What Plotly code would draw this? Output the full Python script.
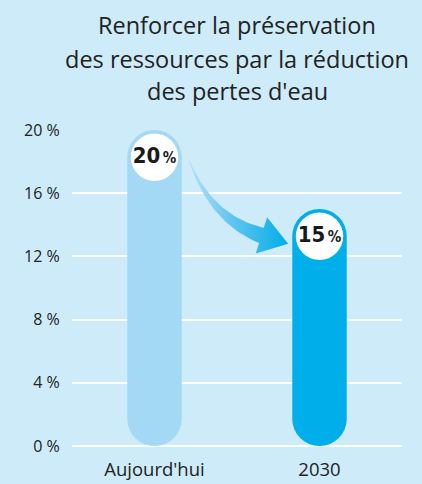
import numpy as np
import plotly.graph_objects as go

# ---- data ----
categories = ["Aujourd'hui", "2030"]
values = [20, 15]
value_labels = ["20", "15"]
tick_values = [0, 4, 8, 12, 16, 20]
tick_labels = ["0 %", "4 %", "8 %", "12 %", "16 %", "20 %"]
title_lines = ["Renforcer la préservation",
               "des ressources par la réduction",
               "des pertes d'eau"]

# ---- layout constants ----
W, H = 422, 484
ML, MR, MT, MB = 72, 20, 130, 38
plot_w = W - ML - MR
plot_h = H - MT - MB
y_max = 20
ppu_y = plot_h / y_max            # pixels per % unit
ppc = plot_w / len(categories)    # pixels per category
bar_w = 0.33
bar_px = bar_w * ppc
r_units = (bar_px / 2) / ppu_y    # radius of cap in y units

BG = "#cdebf9"
bar_colors = ["#a4d9f5", "#00aeea"]
TXT = "#222222"
FONT = "Open Sans"

fig = go.Figure()

# pill-shaped bars (explicit base -> rounded at both ends)
fig.add_bar(x=categories, y=values, base=[0] * len(values),
            width=bar_w, marker=dict(color=bar_colors, cornerradius="50%", line_width=0),
            hoverinfo="skip", showlegend=False)

# white label circles
label_text = [f"<b>{t}</b><span style='font-size:8px'> </span>"
              f"<span style='font-size:15px'><b>%</b></span>" for t in value_labels]
fig.add_scatter(x=categories, y=[v - r_units for v in values], mode="markers+text",
                marker=dict(size=bar_px - 7, color="white", line_width=0),
                text=label_text, textposition="middle center",
                textfont=dict(family="DejaVu Sans Condensed", size=22, color="#1a1a1a"),
                cliponaxis=False, hoverinfo="skip", showlegend=False)

# ---- curved arrow from first to second value ----
def to_px(x, y):
    return ML + (x + 0.5) * ppc, H - MB - y * ppu_y

def from_px(px, py):
    return (px - ML) / ppc - 0.5, (H - MB - py) / ppu_y

T = np.array(to_px(0 + 0.21, values[0] - 1.95))
P = np.array(to_px(1 - 0.19, values[1] - 2.2))
ang = np.deg2rad(17.4)
d = np.array([np.cos(ang), np.sin(ang)])
n = np.array([-d[1], d[0]])
B = P - 28 * d
C = B - 0.5 * np.linalg.norm(B - T) * d
ts = np.linspace(0, 1, 40)
pts = np.array([(1 - t) ** 2 * T + 2 * (1 - t) * t * C + t ** 2 * B for t in ts])
tans = np.array([2 * (1 - t) * (C - T) + 2 * t * (B - C) for t in ts])
tans /= np.linalg.norm(tans, axis=1)[:, None]
norms = np.stack([-tans[:, 1], tans[:, 0]], axis=1)
half_w = (0.5 + 7.5 * ts ** 1.2)[:, None]
left = pts + norms * half_w
right = pts - norms * half_w
poly = np.vstack([left, B + 19 * n, P, B - 19 * n, right[::-1], left[:1]])
ax, ay = zip(*[from_px(px, py) for px, py in poly])
fig.add_scatter(x=ax, y=ay, xaxis="x2", mode="lines", line=dict(width=0),
                fill="toself",
                fillgradient=dict(type="horizontal",
                                  colorscale=[[0, "#b4e1f7"], [0.45, "#5fc4ef"], [1, "#00aeea"]]),
                hoverinfo="skip", showlegend=False)

# ---- title ----
line_px = [25, 59, 91]
for txt, yp in zip(title_lines, line_px):
    fig.add_annotation(text=txt, xref="paper", yref="paper", x=0.5,
                       y=(H - MB - yp) / plot_h, xanchor="center", yanchor="middle",
                       showarrow=False, font=dict(family=FONT, size=23.5, color=TXT))

fig.update_layout(
    width=W, height=H, margin=dict(l=ML, r=MR, t=MT, b=MB, pad=0),
    paper_bgcolor=BG, plot_bgcolor=BG, barmode="overlay",
    showlegend=False,
    xaxis=dict(type="category", range=[-0.5, 1.5], showgrid=False, zeroline=False,
               showline=False, ticks="outside", ticklen=7, tickcolor="rgba(0,0,0,0)",
               automargin=False,
               tickfont=dict(family=FONT, size=18.5, color=TXT)),
    xaxis2=dict(overlaying="x", range=[-0.5, 1.5], visible=False),
    yaxis=dict(range=[0, y_max], tickmode="array", tickvals=tick_values, ticktext=tick_labels,
               showgrid=True, gridcolor="white", gridwidth=1.5,
               zeroline=True, zerolinecolor="white", zerolinewidth=1.5,
               showline=False, ticks="outside", ticklen=8, tickcolor="rgba(0,0,0,0)",
               automargin=False,
               tickfont=dict(family=FONT, size=16, color=TXT)),
)

fig.write_html("out.html", config={"displayModeBar": False},
               post_script="document.body.style.margin='0';document.body.style.overflow='hidden';")
